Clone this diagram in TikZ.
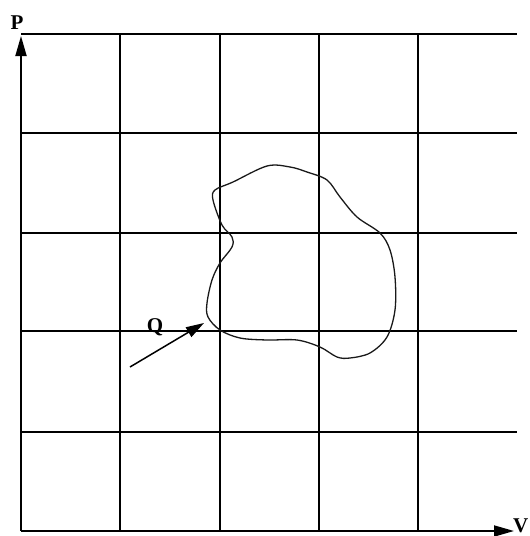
\documentclass[tikz,border=0pt]{standalone}
\usepackage{fontspec}
\setmainfont{Liberation Serif}
\usetikzlibrary{arrows.meta}
\begin{document}
\begin{tikzpicture}[x=1pt,y=-1pt,
  gridline/.style={line width=1.8pt,black},
  axisline/.style={line width=1.8pt,black,-{Triangle[length=20pt,width=11pt]}},
  blob/.style={line width=1.3pt,black!90},
  qarrow/.style={line width=1.5pt,black,-{Triangle[length=18pt,width=11pt]}},
  lab/.style={font=\bfseries\fontsize{21}{21}\selectfont,inner sep=0pt}]
\useasboundingbox (0,0) rectangle (530,536);
% grid
\foreach \y in {34,133,233,331,432}
  \draw[gridline] (21,\y) -- (517,\y);
\foreach \x in {120,220,319,418}
  \draw[gridline] (\x,34) -- (\x,531);
% axes
\coordinate (O) at (21,531);
\coordinate (Ptip) at (21,36);
\coordinate (Vtip) at (514,531);
\draw[axisline] (O) -- (Ptip);
\draw[axisline] (O) -- (Vtip);
\node[lab,anchor=south] (P) at (17,30) {P};
\node[lab,anchor=south east] (V) at (528.5,533) {V};
% closed curve
\draw[blob] plot[smooth cycle,tension=0.55] coordinates {
 (267,166) (233,182) (215,190) (213,200) (222,225) (232,237) (232,247)
 (220,263) (212,280) (207,303) (208,317) (220,330) (240,338) (267,340)
 (297,340) (320,347) (337,357) (350,358) (370,353) (387,337) (395,310)
 (395,277) (390,250) (380,233) (357,217) (340,197) (327,180) (307,172) (290,167)};
% Q arrow
\coordinate (Qs) at (130,367);
\coordinate (Qt) at (204,323);
\draw[qarrow] (Qs) -- (Qt);
\node[lab] (Q) at (155,327) {Q};
\end{tikzpicture}
\end{document}
